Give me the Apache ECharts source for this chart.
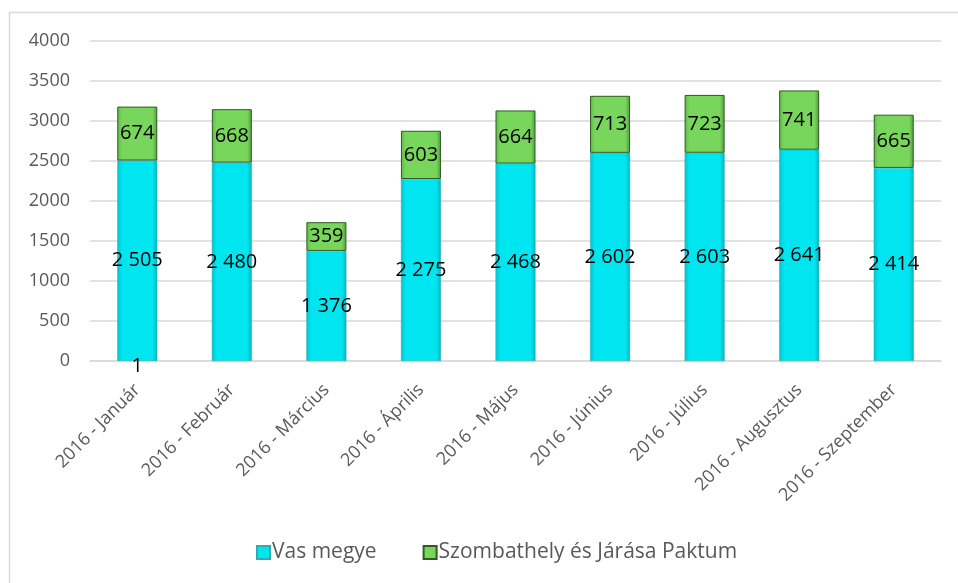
<!DOCTYPE html>
<html>
<head>
<meta charset="utf-8">
<script src="https://cdn.jsdelivr.net/npm/echarts@6/dist/echarts.min.js"></script>
<style>
    html, body { margin: 0; padding: 0; background: #fff; }
    #columns_stacked { width: 958px; height: 583px; }
</style>
</head>
<body>
<div id="columns_stacked"></div>
<script>

// Chart data
// ------------------------------

var categories = [
    '2016 - Január', '2016 - Február', '2016 - Március', '2016 - Április',
    '2016 - Május', '2016 - Június', '2016 - Július', '2016 - Augusztus',
    '2016 - Szeptember'
];
var seriesNames = ['Vas megye', 'Szombathely és Járása Paktum'];
var vasMegye = [2505, 2480, 1376, 2275, 2468, 2602, 2603, 2641, 2414];
var paktum = [674, 668, 359, 603, 664, 713, 723, 741, 665];
// small extra value shown under the January column
var extraValues = [1, '-', '-', '-', '-', '-', '-', '-', '-'];
var yTicks = { min: 0, max: 4000, interval: 500 };


// Setup module
// ------------------------------

var EchartsColumnsStacked = function() {

    var fmt = function(v) {
        return String(v).replace(/\B(?=(\d{3})+(?!\d))/g, ' ');
    };

    // bevel-like horizontal gradients
    var cyanFill = new echarts.graphic.LinearGradient(0, 0, 1, 0, [
        { offset: 0, color: '#00c4cf' },
        { offset: 0.12, color: '#00e6f1' },
        { offset: 0.88, color: '#00e6f1' },
        { offset: 1, color: '#00b5bf' }
    ]);
    var greenFill = new echarts.graphic.LinearGradient(0, 0, 1, 0, [
        { offset: 0, color: '#5fb848' },
        { offset: 0.12, color: '#79d65d' },
        { offset: 0.88, color: '#79d65d' },
        { offset: 1, color: '#4f9c3b' }
    ]);

    var _columnsStackedExample = function() {
        if (typeof echarts == 'undefined') {
            console.warn('Warning - echarts.min.js is not loaded.');
            return;
        }

        var element = document.getElementById('columns_stacked');
        if (!element) return;

        var chart = echarts.init(element);

        chart.setOption({

            animation: false,

            textStyle: {
                fontFamily: '"Open Sans", "Noto Sans", sans-serif'
            },

            // Outer frame
            graphic: [{
                type: 'rect',
                silent: true,
                shape: { x: 9.5, y: 12.5, width: 1200, height: 1000 },
                style: { fill: 'none', stroke: '#d9d9d9', lineWidth: 1.5 }
            }],

            grid: {
                left: 90,
                right: 17,
                top: 41,
                bottom: 222,
                containLabel: false
            },

            legend: {
                data: seriesNames,
                left: 251,
                top: 537,
                icon: 'rect',
                itemWidth: 13,
                itemHeight: 13,
                itemGap: 46,
                textStyle: {
                    color: '#595959',
                    fontSize: 21,
                    padding: [0, 0, 0, -3]
                }
            },

            xAxis: [{
                type: 'category',
                data: categories,
                axisTick: { show: false },
                axisLine: {
                    lineStyle: { color: '#d9d9d9', width: 1.5 }
                },
                axisLabel: {
                    interval: 0,
                    rotate: 45,
                    margin: 26,
                    color: '#595959',
                    fontSize: 18
                }
            }],

            yAxis: [{
                type: 'value',
                min: yTicks.min,
                max: yTicks.max,
                interval: yTicks.interval,
                axisLine: { show: false },
                axisTick: { show: false },
                axisLabel: {
                    color: '#595959',
                    fontSize: 18,
                    margin: 20,
                    formatter: function(v) { return String(v); }
                },
                splitLine: {
                    lineStyle: { color: '#d9d9d9', width: 1.5 }
                }
            }],

            series: [
                {
                    name: 'extra',
                    type: 'bar',
                    stack: 'total',
                    barWidth: 40,
                    itemStyle: { color: cyanFill },
                    label: {
                        show: true,
                        position: 'inside',
                        offset: [0, 5],
                        color: '#000',
                        fontSize: 20,
                        formatter: function(p) { return fmt(p.value); }
                    },
                    data: extraValues
                },
                {
                    name: seriesNames[0],
                    type: 'bar',
                    stack: 'total',
                    barWidth: 40,
                    itemStyle: {
                        color: cyanFill,
                        borderColor: '#35a9ae',
                        borderWidth: 0.5
                    },
                    label: {
                        show: true,
                        position: 'inside',
                        color: '#000',
                        fontSize: 20,
                        formatter: function(p) { return fmt(p.value); }
                    },
                    data: vasMegye
                },
                {
                    name: seriesNames[1],
                    type: 'bar',
                    stack: 'total',
                    barWidth: 40,
                    itemStyle: {
                        color: greenFill,
                        borderColor: '#2f5a22',
                        borderWidth: 1
                    },
                    label: {
                        show: true,
                        position: 'inside',
                        color: '#000',
                        fontSize: 20,
                        formatter: function(p) { return fmt(p.value); }
                    },
                    data: paktum
                }
            ]
        });
    };

    return {
        init: function() {
            _columnsStackedExample();
        }
    }
}();


// Initialize module
// ------------------------------

document.addEventListener('DOMContentLoaded', function() {
    EchartsColumnsStacked.init();
});
</script>
</body>
</html>
